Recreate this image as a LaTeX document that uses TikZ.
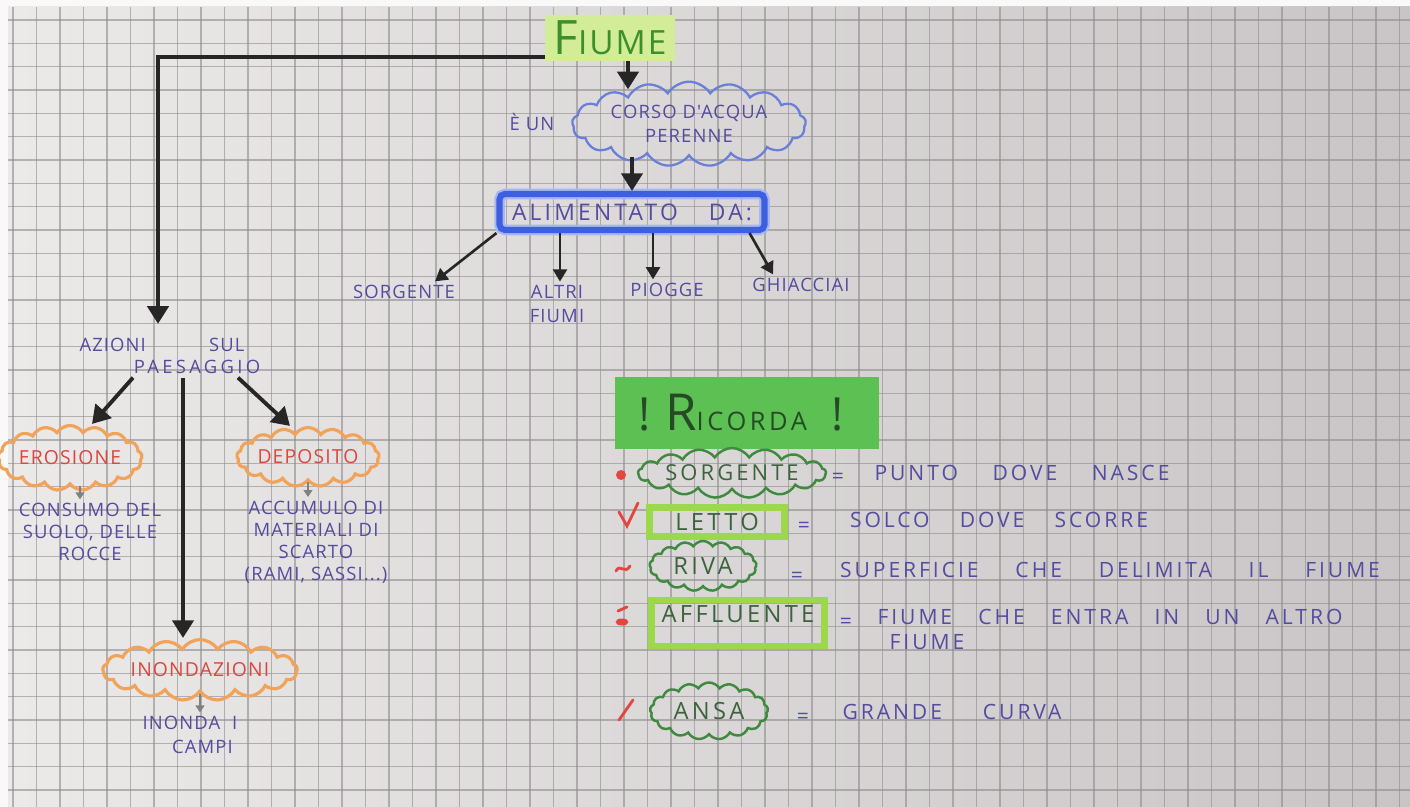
\documentclass[tikz,border=0pt]{standalone}
\usepackage{fontspec}
\setmainfont{Open Sans}
\newfontfamily\hand[LetterSpace=6]{Open Sans}
\newfontfamily\handwide[LetterSpace=14]{Open Sans}
\usetikzlibrary{arrows.meta,shapes.symbols,positioning}
\definecolor{paperleft}{HTML}{ECE9E9}
\definecolor{paperright}{HTML}{C9C5C6}
\definecolor{gridcol}{HTML}{8E8B8C}
\definecolor{inkcol}{HTML}{544C9E}
\definecolor{arrowcol}{HTML}{262626}
\definecolor{hlgreen}{HTML}{D2EC98}
\definecolor{fiumegreen}{HTML}{3C8F2C}
\definecolor{cloudblue}{HTML}{6A7FD8}
\definecolor{boxblue}{HTML}{3D60E0}
\definecolor{cloudorange}{HTML}{F2A35A}
\definecolor{redink}{HTML}{D9473F}
\definecolor{ricordagreen}{HTML}{5CC052}
\definecolor{ricordatext}{HTML}{264A26}
\definecolor{cloudgreen}{HTML}{3F8A3F}
\definecolor{limegreen}{HTML}{9BD84A}
\definecolor{wordgreen}{HTML}{3C633C}
\definecolor{redmark}{HTML}{E2463F}
\newcommand{\handline}[2]{\makebox[#1][s]{#2}}
\tikzset{
  gridline/.style={draw=gridcol, line width=0.8pt, opacity=0.6},
  ink/.style={text=inkcol, font=\hand\fontsize{10.5}{13.5}\selectfont, inner sep=2pt},
  defink/.style={text=inkcol, font=\handwide\fontsize{12}{14}\selectfont, inner sep=2pt},
  redword/.style={text=redink, font=\hand\fontsize{11}{14}\selectfont},
  greenword/.style={text=wordgreen, font=\handwide\fontsize{13.5}{15}\selectfont},
  arr/.style={draw=arrowcol, line width=2.2pt, -{Triangle[length=10pt,width=12pt]}},
  arrs/.style={draw=arrowcol, line width=1.5pt, -{Triangle[length=7pt,width=8pt]}},
  tinyarr/.style={draw=gray, line width=1pt, -{Triangle[length=4pt,width=5pt]}},
  puff/.style={cloud, cloud puffs=17, cloud puff arc=115, cloud ignores aspect, inner sep=0pt},
  bluecloud/.style={puff, draw=cloudblue, line width=1.3pt},
  orangecloud/.style={puff, draw=cloudorange, line width=1.8pt},
  greencloud/.style={puff, draw=cloudgreen, line width=1.4pt},
  limebox/.style={draw=limegreen, line width=3.5pt},
  redsign/.style={draw=redmark, line width=1.6pt, line cap=round},
}
\begin{document}
\begin{tikzpicture}[x=0.02cm,y=-0.02cm]
\useasboundingbox (0,0) rectangle (1410,807);
% paper
\fill[white!95!gray] (0,0) rectangle (1410,807);
\shade[left color=paperleft, right color=paperright] (8,7) rectangle (1410,807);
\foreach \k in {0,...,59} \draw[gridline] ({13+23.5*\k},7) -- ({13+23.5*\k},807);
\foreach \k in {0,...,33} \draw[gridline] (8,{20+23.33*\k}) -- (1410,{20+23.33*\k});
% top
\node[fill=hlgreen, minimum width=2.6cm, minimum height=0.78cm, text=fiumegreen, font=\hand] (fiume) at (610,38) {\fontsize{27}{27}\selectfont F\fontsize{19}{19}\selectfont IUME};
\node[ink] (eun) at (532,122) {È UN};
\node[bluecloud, minimum width=4.56cm, minimum height=1.6cm, ink, align=center] (corso) at (689,124) {CORSO D'ACQUA\\PERENNE};
\node[draw=boxblue, line width=3.5pt, preaction={draw=boxblue!45, line width=6pt}, rounded corners=3pt, minimum width=5.3cm, minimum height=0.72cm, text=inkcol, font=\handwide\fontsize{13}{15}\selectfont] (alim) at (632,212) {\handline{4.8cm}{ALIMENTATO DA:}};
\node[ink] (sorg) at (404,292) {SORGENTE};
\node[ink, align=center] (altri) at (557,304) {ALTRI\\FIUMI};
\node[ink] (piogge) at (667,290) {PIOGGE};
\node[ink] (ghiac) at (801,285) {GHIACCIAI};
\draw[arr, shorten >=-5pt] ([xshift=0.36cm]fiume.south) -- ([xshift=0.36cm]fiume.south |- corso.north);
\draw[arr] (alim.north |- corso.south) -- (alim.north);
\draw[arrs] (alim.south west) -- ([xshift=0.62cm]sorg.north);
\draw[arrs] ([xshift=0.06cm]altri.north |- alim.south) -- ([xshift=0.06cm]altri.north);
\draw[arrs] ([xshift=-0.28cm]piogge.north |- alim.south) -- ([xshift=-0.28cm]piogge.north);
\draw[arrs] ([xshift=-0.36cm]alim.south east) -- ([xshift=-0.56cm]ghiac.north);
% azioni sul paesaggio
\node[ink] (azioni) at (162,345) {\handline{3.3cm}{AZIONI SUL}};
\node[ink] (paes) at (197,367) {\addfontfeature{LetterSpace=18}PAESAGGIO};
\draw[arr, shorten >=6pt] ([yshift=0.08cm]fiume.south west) -| ([xshift=-0.08cm]azioni.north);
\node[orangecloud, minimum width=2.28cm, minimum height=1.3cm, redword] (erosione) at (70,458) {EROSIONE};
\node[orangecloud, minimum width=2.8cm, minimum height=1.18cm, redword] (deposito) at (308,457) {DEPOSITO};
\node[orangecloud, minimum width=3.72cm, minimum height=1.22cm, redword] (inond) at (200,670) {INONDAZIONI};
\node[ink, align=center, font=\hand\fontsize{10.5}{12.5}\selectfont] (consumo) at (90,532) {CONSUMO DEL\\SUOLO, DELLE\\ROCCE};
\node[ink, align=center, font=\hand\fontsize{10.5}{12.5}\selectfont] (accumulo) at (316,542) {ACCUMULO DI\\MATERIALI DI\\SCARTO\\(RAMI, SASSI...)};
\node[ink, align=center] (inonda) at (190,735) {INONDA \ I\\\hspace*{0.5cm}CAMPI};
\draw[arr] ([xshift=-1.28cm]paes.south) -- ([xshift=0.44cm]erosione.north);
\draw[arr] ([xshift=-0.28cm]paes.south) -- ([xshift=-0.28cm]paes.south |- inond.north);
\draw[arr] ([xshift=0.82cm]paes.south) -- ([xshift=-0.36cm]deposito.north);
\draw[tinyarr] ([xshift=0.2cm]erosione.south) -- ([xshift=0.2cm]erosione.south |- consumo.north);
\draw[tinyarr] (deposito.south) -- (deposito.south |- accumulo.north);
\draw[tinyarr] (inond.south) -- (inond.south |- inonda.north);
% ricorda
\node[fill=ricordagreen, minimum width=5.3cm, minimum height=1.46cm, text=ricordatext, font=\hand, inner sep=0pt] (ricorda) at (747,413) {\makebox[4.36cm][l]{\fontsize{26}{26}\selectfont !\hspace{0.3cm}{\fontsize{29}{29}\selectfont R}{\handwide\fontsize{14.5}{14.5}\selectfont ICORDA}\hspace{0.5cm}\fontsize{26}{26}\selectfont !}};
\fill[redmark] (621,475) circle[radius=0.1cm];
\draw[redsign] (619,512) -- (627,526) -- (638,503);
\draw[redsign] (616,571) .. controls (620,563) and (625,575) .. (630,566);
\draw[redsign] (618,611) -- (627,607);
\fill[redmark] (622,622) ellipse[x radius=0.13cm, y radius=0.07cm];
\draw[redsign] (619,720) -- (633,700);
\node[greencloud, minimum width=3.3cm, minimum height=1.0cm, greenword, font=\handwide\fontsize{12.5}{15}\selectfont] (sorgc) at (732,473) {SORGENTE};
\node[limebox, minimum width=2.7cm, minimum height=0.55cm, greenword] (letto) at (717,522) {LETTO};
\node[greencloud, minimum width=2.14cm, minimum height=1.0cm, greenword] (riva) at (703,566) {RIVA};
\node[limebox, minimum width=3.46cm, minimum height=0.88cm, greenword, text depth=10pt] (affl) at (738,623) {AFFLUENTE};
\node[greencloud, minimum width=2.36cm, minimum height=1.14cm, greenword] (ansa) at (709,711) {ANSA};
\node[defink] (eq1) at (838,478) {=};
\node[defink] (eq2) at (804,527) {=};
\node[defink] (eq3) at (797,577) {=};
\node[defink] (eq4) at (846,623) {=};
\node[defink] (eq5) at (803,718) {=};
\node[defink] (def1) at (1022,473) {\handline{5.9cm}{PUNTO DOVE NASCE}};
\node[defink] (def2) at (999,520) {\handline{5.96cm}{SOLCO DOVE SCORRE}};
\node[defink] (def3) at (1110,570) {\handline{10.8cm}{SUPERFICIE CHE DELIMITA IL FIUME}};
\node[defink] (def4) at (1110,617) {\handline{9.3cm}{FIUME CHE ENTRA IN UN ALTRO}};
\node[defink] (def4b) at (927,642) {FIUME};
\node[defink] (def5) at (952,712) {\handline{4.38cm}{GRANDE CURVA}};
\end{tikzpicture}
\end{document}
